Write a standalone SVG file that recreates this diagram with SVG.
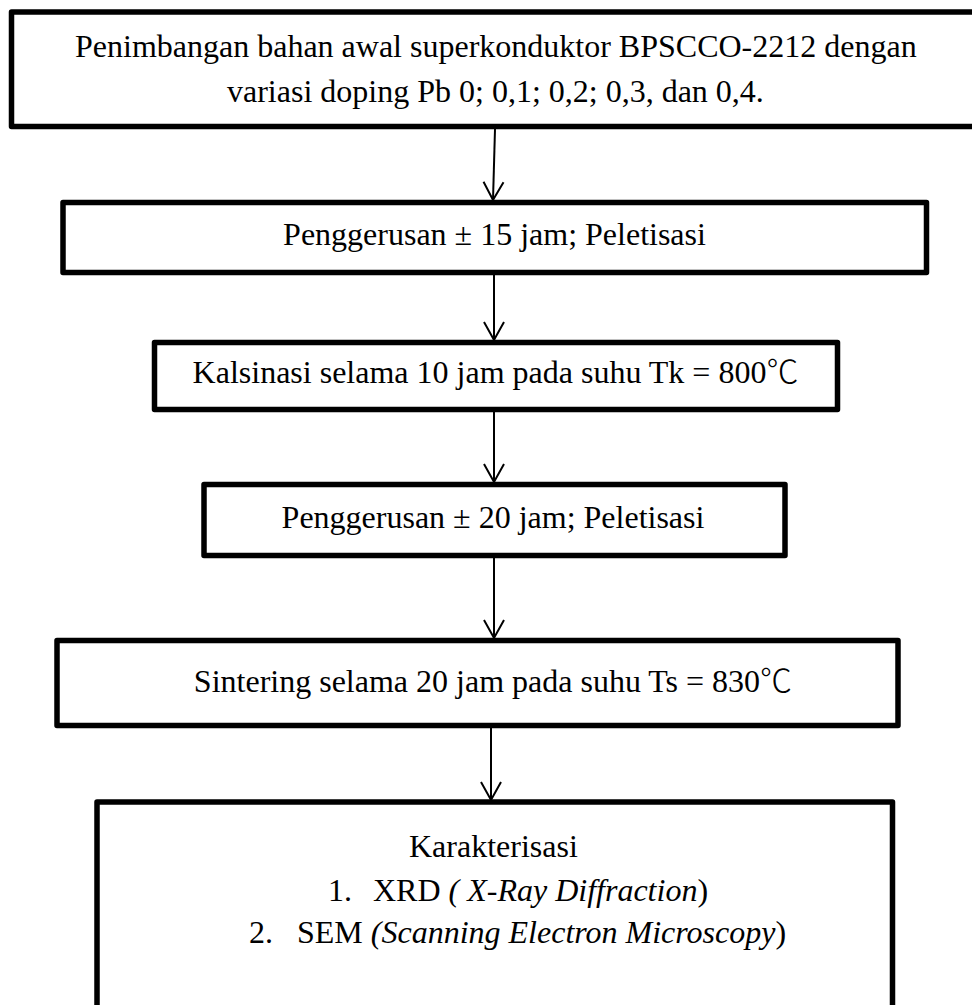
<svg xmlns="http://www.w3.org/2000/svg" width="972" height="1005" viewBox="0 0 972 1005">
<style>
.box{fill:#fff;stroke:#000;stroke-width:5.5;stroke-linejoin:round}
.t{font-family:"Liberation Serif","DejaVu Serif",serif;font-size:32px;fill:#000}
.m{text-anchor:middle}
.i{font-style:italic}
.deg{font-family:"Liberation Serif","Noto Sans CJK JP","DejaVu Serif",serif;font-weight:300}
.c{fill:none;stroke:#000;stroke-width:2}
</style>
<defs>
<marker id="v" markerUnits="userSpaceOnUse" markerWidth="30" markerHeight="30" refX="0" refY="0" viewBox="-15 -15 30 30" orient="auto" overflow="visible">
<path d="M-18,-10 L0,0 L-18,10" fill="none" stroke="#000" stroke-width="2"/>
</marker>
</defs>
<g id="connectors">
<line class="c" x1="495" y1="129" x2="493" y2="200" marker-end="url(#v)"/>
<line class="c" x1="494" y1="275" x2="494" y2="340" marker-end="url(#v)"/>
<line class="c" x1="494" y1="412" x2="494" y2="482" marker-end="url(#v)"/>
<line class="c" x1="494" y1="558" x2="494" y2="638" marker-end="url(#v)"/>
<line class="c" x1="491" y1="728" x2="491" y2="800" marker-end="url(#v)"/>
</g>
<g id="n1">
<rect class="box" x="11.5" y="12" width="975" height="114.5"/>
<text class="t" x="75" y="57">Penimbangan bahan awal superkonduktor BPSCCO-2212 dengan</text>
<text class="t" x="227" y="102">variasi doping Pb 0; 0,1; 0,2; 0,3, dan 0,4.</text>
</g>
<g id="n2">
<rect class="box" x="63" y="202.5" width="863.5" height="70"/>
<text class="t m" x="494.5" y="245">Penggerusan ± 15 jam; Peletisasi</text>
</g>
<g id="n3">
<rect class="box" x="154.5" y="342.5" width="683" height="67"/>
<text class="t m" x="495.5" y="383">Kalsinasi selama 10 jam pada suhu Tk = 800<tspan class="deg">℃</tspan></text>
</g>
<g id="n4">
<rect class="box" x="204" y="484.5" width="581" height="71"/>
<text class="t m" x="493" y="528">Penggerusan ± 20 jam; Peletisasi</text>
</g>
<g id="n5">
<rect class="box" x="57" y="640.5" width="841" height="85"/>
<text class="t m" x="493" y="692">Sintering selama 20 jam pada suhu Ts = 830<tspan class="deg">℃</tspan></text>
</g>
<g id="n6">
<rect class="box" x="97" y="802" width="795.5" height="230"/>
<text class="t" x="409" y="857">Karakterisasi</text>
<text class="t" x="328" y="901">1.</text>
<text class="t" x="373" y="901">XRD <tspan class="i">( X-Ray Diffraction</tspan>)</text>
<text class="t" x="249" y="943">2.</text>
<text class="t" x="297" y="943">SEM <tspan class="i">(Scanning Electron Microscopy</tspan>)</text>
</g>
</svg>
